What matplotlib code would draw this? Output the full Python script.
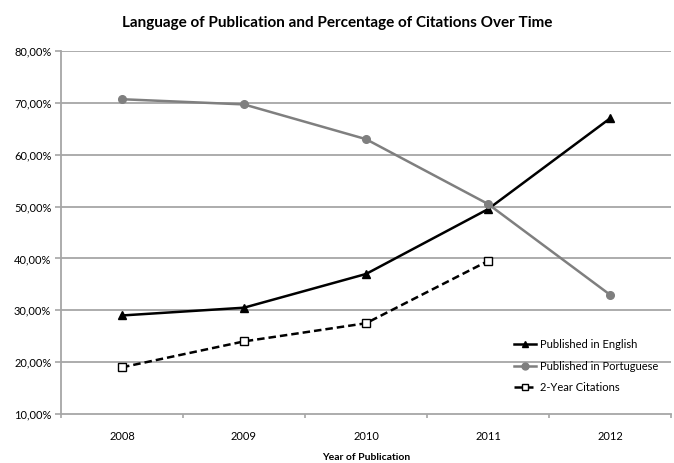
import numpy as np
import matplotlib.pyplot as plt
from matplotlib.ticker import FuncFormatter

plt.rcParams['font.family'] = ['Lato', 'DejaVu Sans']

# ==== data ====
years = ['2008', '2009', '2010', '2011', '2012']
english = [29.0, 30.5, 37.0, 49.5, 67.0]
portuguese = [70.7, 69.7, 63.0, 50.5, 33.0]
citations = [19.0, 24.0, 27.5, 39.5]   # no value for 2012

x = np.arange(len(years))

fig = plt.figure(figsize=(6.74, 4.63), dpi=100)
ax = fig.add_axes([61/674, 1 - 414/463, 610/674, 363/463])

grid_col = '#a6a6a6'
for v in range(20, 90, 10):
    ax.axhline(v, color=grid_col, lw=1.3, zorder=0)

ax.plot(x, english, color='black', lw=1.8, marker='^', ms=5.5,
        label='Published in English', zorder=3)
ax.plot(x, portuguese, color='#7f7f7f', lw=1.8, marker='o', ms=5.5,
        label='Published in Portuguese', zorder=3)
ax.plot(x[:len(citations)], citations, color='black', lw=1.8, ls=(0, (3, 1.6)),
        marker='s', ms=5.5, mfc='white', mec='black', mew=1.0,
        label='2-Year Citations', zorder=4)

ax.set_xlim(-0.5, len(years) - 0.5)
ax.set_ylim(10, 80)
ax.set_yticks(range(10, 90, 10))
ax.yaxis.set_major_formatter(FuncFormatter(lambda v, p: f'{v:.2f}%'.replace('.', ',')))
ax.set_xticks(x)
ax.set_xticklabels(years)
ax.set_xticks(np.arange(-0.5, len(years), 1), minor=True)
ax.tick_params(axis='x', which='major', length=0, pad=12, labelsize=8)
ax.tick_params(axis='x', which='minor', length=3, color=grid_col, width=1.2)
ax.tick_params(axis='y', length=4, color=grid_col, width=1.2, pad=3, labelsize=8)

for s in ['top', 'right']:
    ax.spines[s].set_visible(False)
for s in ['left', 'bottom']:
    ax.spines[s].set_color(grid_col)
    ax.spines[s].set_linewidth(1.3)

ax.set_xlabel('Year of Publication', fontsize=7.5, fontweight='bold', labelpad=8)
fig.suptitle('Language of Publication and Percentage of Citations Over Time',
             fontsize=11, fontweight='bold', y=0.965, x=0.5)

ax.legend(loc='lower right', bbox_to_anchor=(0.995, 0.03), frameon=False,
          fontsize=8, handlelength=2.0, handletextpad=0.3, labelspacing=0.95,
          markerscale=0.9)

fig.savefig('out.png', dpi=100)
